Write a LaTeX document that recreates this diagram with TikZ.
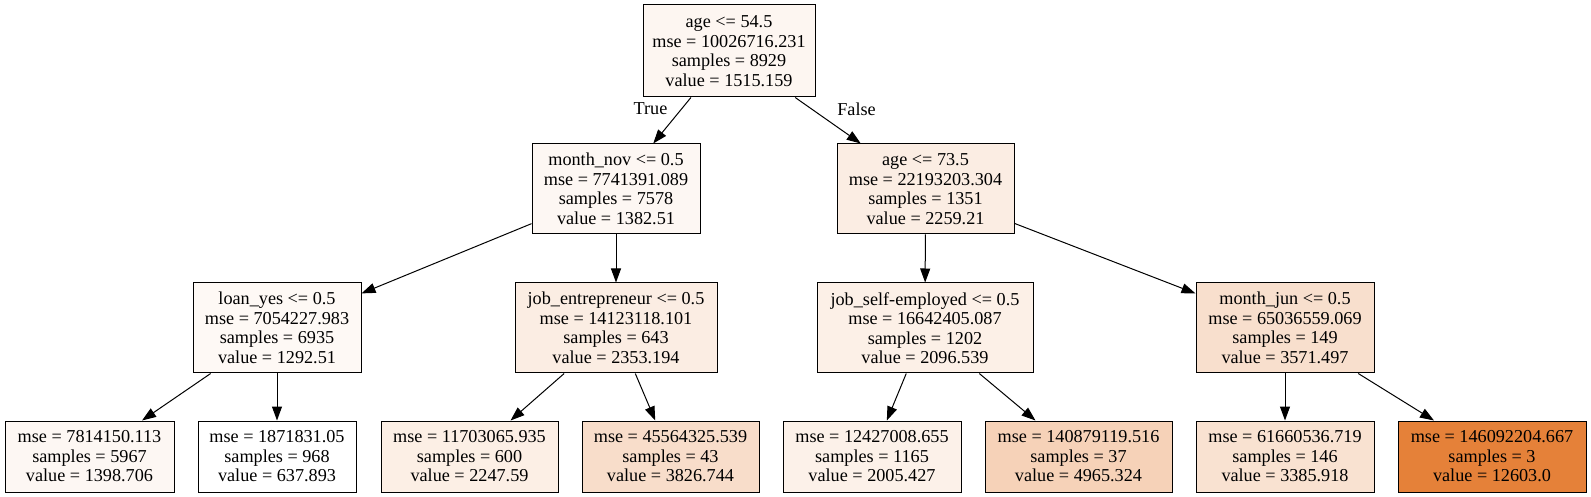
\documentclass[tikz,border=0pt]{standalone}
\usepackage{fontspec}
\setmainfont{Liberation Serif}
\usetikzlibrary{arrows.meta}
\definecolor{treeorange}{RGB}{229,129,57}

\begin{document}
\begin{tikzpicture}[x=0.5pt, y=-0.5pt,
	treenode/.style = {draw, line width=0.5pt, rectangle, align=center, inner sep=0pt,
		minimum height=45pt, font=\fontsize{9.1}{9.75}\selectfont},
	leafnode/.style = {treenode, minimum height=35.5pt},
	edgelabel/.style = {inner sep=0pt, font=\fontsize{9.1}{9.75}\selectfont},
	treeedge/.style = {-{Triangle[length=7pt, width=5pt]}, line width=0.5pt}
	]
	\useasboundingbox (0,0) rectangle (1591,497);
	% split nodes
	\node[treenode, fill=treeorange!7, minimum height=46pt, minimum width=86pt] (age54) at (729,51)
		{age <= 54.5\\mse = 10026716.231\\samples = 8929\\value = 1515.159};
	\node[treenode, fill=treeorange!6, minimum width=84pt] (monthnov) at (616,189)
		{month\_nov <= 0.5\\mse = 7741391.089\\samples = 7578\\value = 1382.51};
	\node[treenode, fill=treeorange!14, minimum width=88.5pt] (age73) at (925.5,189)
		{age <= 73.5\\mse = 22193203.304\\samples = 1351\\value = 2259.21};
	\node[treenode, fill=treeorange!5, minimum width=84pt] (loanyes) at (277,328)
		{loan\_yes <= 0.5\\mse = 7054227.983\\samples = 6935\\value = 1292.51};
	\node[treenode, fill=treeorange!14, minimum width=101pt] (jobentr) at (616,328)
		{job\_entrepreneur <= 0.5\\mse = 14123118.101\\samples = 643\\value = 2353.194};
	\node[treenode, fill=treeorange!12, minimum width=108pt] (jobself) at (925,328)
		{job\_self-employed <= 0.5\\mse = 16642405.087\\samples = 1202\\value = 2096.539};
	\node[treenode, fill=treeorange!25, minimum width=89pt] (monthjun) at (1285,328)
		{month\_jun <= 0.5\\mse = 65036559.069\\samples = 149\\value = 3571.497};
	% leaves
	\node[leafnode, fill=treeorange!6, minimum width=84.5pt] (leafa) at (89.5,456.5)
		{mse = 7814150.113\\samples = 5967\\value = 1398.706};
	\node[leafnode, fill=white, minimum width=79pt] (leafb) at (277,456.5)
		{mse = 1871831.05\\samples = 968\\value = 637.893};
	\node[leafnode, fill=treeorange!13, minimum width=88.5pt] (leafc) at (469.5,456.5)
		{mse = 11703065.935\\samples = 600\\value = 2247.59};
	\node[leafnode, fill=treeorange!27, minimum width=88.5pt] (leafd) at (670.5,456.5)
		{mse = 45564325.539\\samples = 43\\value = 3826.744};
	\node[leafnode, fill=treeorange!11, minimum width=89pt] (leafe) at (872,456.5)
		{mse = 12427008.655\\samples = 1165\\value = 2005.427};
	\node[leafnode, fill=treeorange!36, minimum width=93.5pt] (leaff) at (1078.5,456.5)
		{mse = 140879119.516\\samples = 37\\value = 4965.324};
	\node[leafnode, fill=treeorange!23, minimum width=89pt] (leafg) at (1285,456.5)
		{mse = 61660536.719\\samples = 146\\value = 3385.918};
	\node[leafnode, fill=treeorange, minimum width=94pt] (leafh) at (1492,456.5)
		{mse = 146092204.667\\samples = 3\\value = 12603.0};
	% edges
	\draw[treeedge] (age54) -- (monthnov);
	\draw[treeedge] (age54) -- (age73);
	\node[edgelabel] (truelabel) at (650.5,109) {True};
	\node[edgelabel] (falselabel) at (856.5,109) {False};
	\draw[treeedge] (monthnov) -- (loanyes);
	\draw[treeedge] (monthnov) -- (jobentr);
	\draw[treeedge] (age73) -- (jobself);
	\draw[treeedge] (age73) -- (monthjun);
	\draw[treeedge] (loanyes) -- (leafa);
	\draw[treeedge] (loanyes) -- (leafb);
	\draw[treeedge] (jobentr) -- (leafc);
	\draw[treeedge] (jobentr) -- (leafd);
	\draw[treeedge] (jobself) -- (leafe);
	\draw[treeedge] (jobself) -- (leaff);
	\draw[treeedge] (monthjun) -- (leafg);
	\draw[treeedge] (monthjun) -- (leafh);
\end{tikzpicture}
\end{document}
